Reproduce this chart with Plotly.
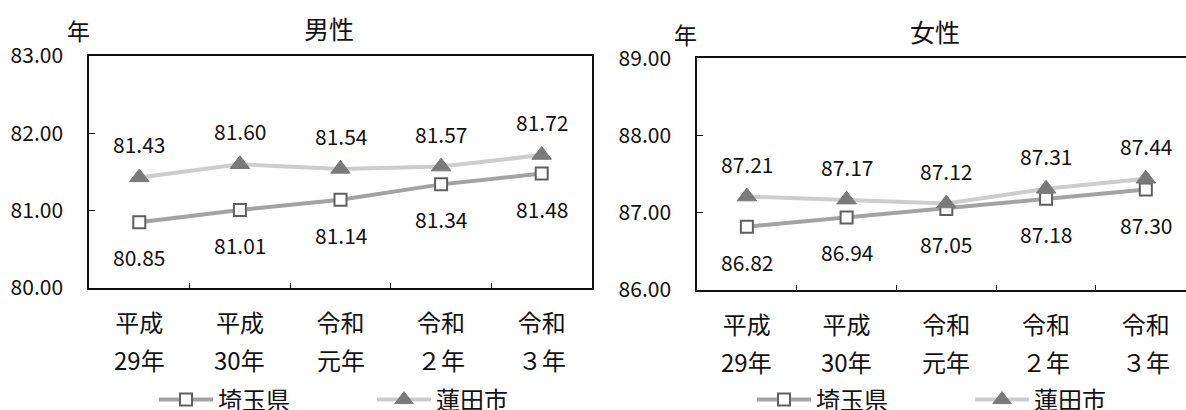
import plotly.graph_objects as go

# Categories (fiscal years): era on the first line, year on the second
categories = ["平成29年", "平成30年", "令和元年", "令和2年", "令和3年"]
era_labels = ["平成", "平成", "令和", "令和", "令和"]
year_labels = ["29年", "30年", "元年", "２年", "３年"]
series_names = ["埼玉県", "蓮田市"]
male_saitama = [80.85, 81.01, 81.14, 81.34, 81.48]
male_hasuda = [81.43, 81.60, 81.54, 81.57, 81.72]
female_saitama = [86.82, 86.94, 87.05, 87.18, 87.30]
female_hasuda = [87.21, 87.17, 87.12, 87.31, 87.44]
panel_titles = ["男性", "女性"]
unit_label = "年"

W, H = 1186, 410
FONT = "Noto Sans CJK JP"


def px_x(p):
    return p / W


def px_y(p):
    return 1 - p / H


fig = go.Figure()

saitama_style = dict(
    mode="lines+markers",
    line=dict(color="#a3a3a3", width=4),
    marker=dict(symbol="square", size=12, color="white",
                line=dict(color="#5f5f5f", width=2)),
)
hasuda_style = dict(
    mode="lines+markers",
    line=dict(color="#cdcdcd", width=4),
    marker=dict(symbol="triangle-up", size=17, color="#7a7a7a",
                line=dict(color="#7a7a7a", width=1)),
)

panels = [
    ("x", "y", "legend", male_saitama, male_hasuda, 288),
    ("x2", "y2", "legend2", female_saitama, female_hasuda, 290),
]
for xa, ya, lg, s_vals, h_vals, _ in panels:
    fig.add_trace(go.Scatter(x=categories, y=s_vals, name=series_names[0],
                             xaxis=xa, yaxis=ya, legend=lg, **saitama_style))
    fig.add_trace(go.Scatter(x=categories, y=h_vals, name=series_names[1],
                             xaxis=xa, yaxis=ya, legend=lg, **hasuda_style))

annotations = []
for xa, ya, _, s_vals, h_vals, bottom in panels:
    # Value labels: city above its marker, prefecture below
    for c, v in zip(categories, h_vals):
        annotations.append(dict(x=c, y=v, xref=xa, yref=ya, text=f"{v:.2f}",
                                showarrow=False, yshift=33,
                                font=dict(size=21, color="#111", family=FONT)))
    for c, v in zip(categories, s_vals):
        annotations.append(dict(x=c, y=v, xref=xa, yref=ya, text=f"{v:.2f}",
                                showarrow=False, yshift=-35,
                                font=dict(size=21, color="#111", family=FONT)))
    # Second line of each category label
    for c, yl in zip(categories, year_labels):
        annotations.append(dict(x=c, y=px_y(bottom + 71), xref=xa, yref="paper", text=yl,
                                showarrow=False, xanchor="center", yanchor="middle",
                                font=dict(size=24, color="#111", family=FONT)))

# Panel titles and unit labels
for title, tx, ty in zip(panel_titles, [329, 935], [28, 31]):
    annotations.append(dict(x=px_x(tx), y=px_y(ty), xref="paper", yref="paper",
                            text=title, showarrow=False, xanchor="center", yanchor="middle",
                            font=dict(size=25, color="#111", family=FONT)))
for ux, uy in [(78, 30), (685, 34)]:
    annotations.append(dict(x=px_x(ux), y=px_y(uy), xref="paper", yref="paper",
                            text=unit_label, showarrow=False, xanchor="center", yanchor="middle",
                            font=dict(size=23, color="#111", family=FONT)))

axis_common = dict(showline=True, linecolor="#111", linewidth=1.5, showgrid=False,
                   zeroline=False, ticks="inside", tickcolor="#111", tickwidth=1)

xaxis_common = dict(axis_common, type="category", tickson="boundaries", ticklen=5,
                    tickmode="array", tickvals=categories, ticktext=era_labels,
                    tickfont=dict(size=24, color="#111", family=FONT), ticklabelstandoff=13,
                    mirror=True)
yaxis_common = dict(axis_common, dtick=1, tickformat=".2f", ticklen=6,
                    tickfont=dict(size=21, color="#111", family=FONT), ticklabelstandoff=20)

legend_common = dict(orientation="h", xanchor="left", yanchor="middle",
                     font=dict(size=24, color="#111", family=FONT),
                     entrywidth=149, entrywidthmode="pixels", itemwidth=54,
                     bgcolor="rgba(0,0,0,0)")

fig.update_layout(
    width=W, height=H,
    margin=dict(l=0, r=0, t=0, b=0, autoexpand=False),
    paper_bgcolor="white", plot_bgcolor="white",
    font=dict(family=FONT, color="#111"),
    showlegend=True,
    xaxis=dict(xaxis_common, domain=[px_x(89), px_x(592)], range=[-0.5, 4.5], anchor="y"),
    yaxis=dict(yaxis_common, domain=[px_y(288), px_y(56)], range=[80, 83], mirror=True, anchor="x"),
    xaxis2=dict(xaxis_common, domain=[px_x(697), 1.0], range=[-0.5, 4.403], anchor="y2"),
    yaxis2=dict(yaxis_common, domain=[px_y(290), px_y(58.3)], range=[86, 89], mirror=False, anchor="x2"),
    legend=dict(legend_common, x=px_x(154), y=px_y(400)),
    legend2=dict(legend_common, x=px_x(752), y=px_y(400)),
    annotations=annotations,
)

fig.write_html("out.html")
